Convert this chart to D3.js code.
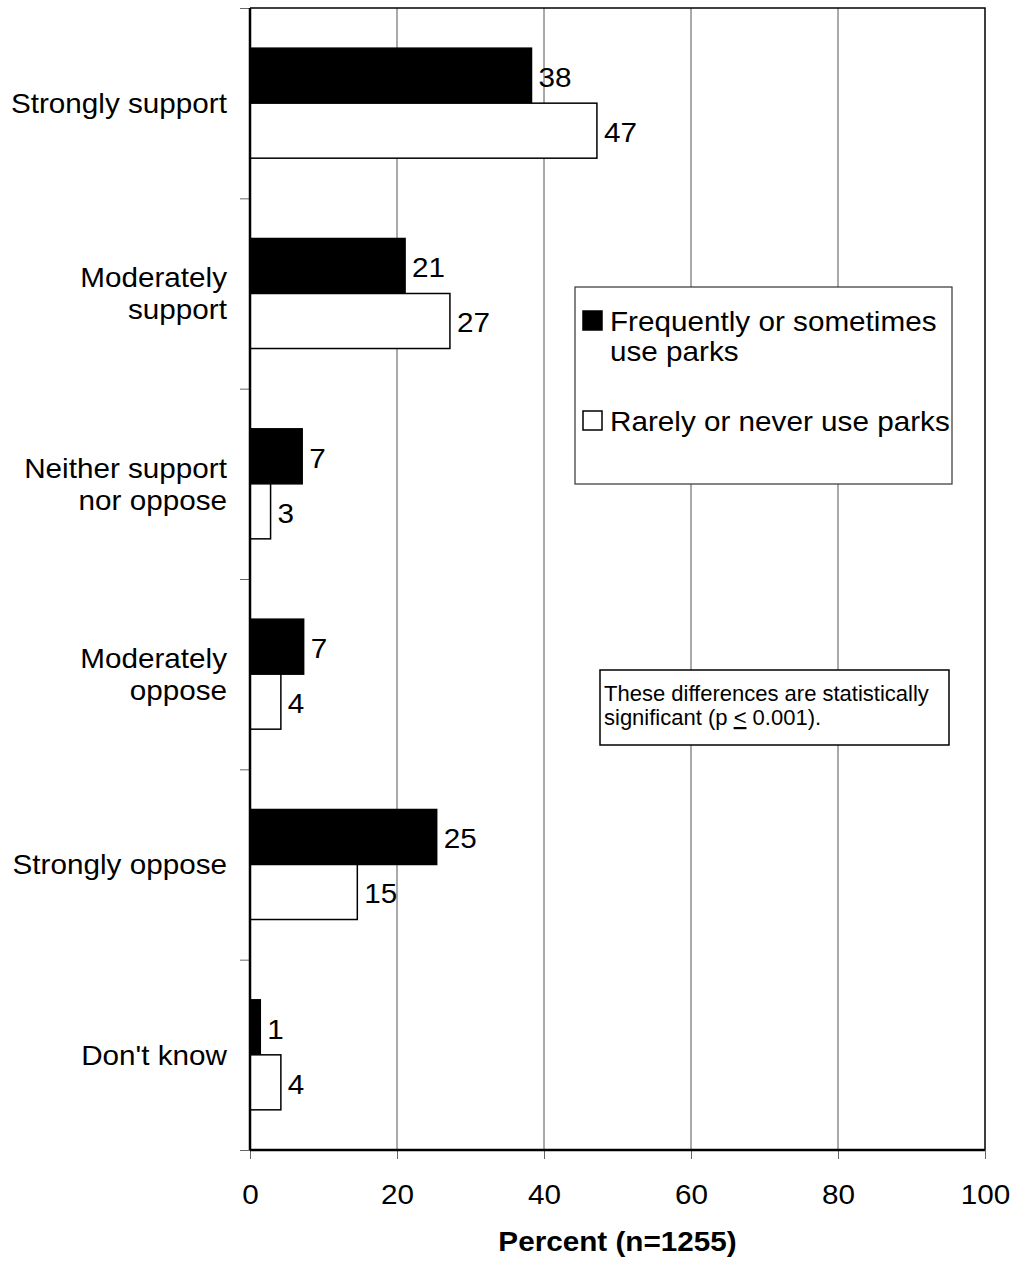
<!DOCTYPE html>
<html>
<head>
<meta charset="utf-8">
<script src="https://cdn.jsdelivr.net/npm/d3@7"></script>
<style>
  body { margin: 0; background: #fff; }
  svg { display: block; font-family: "Liberation Sans", Arial, sans-serif; }
</style>
</head>
<body>
<svg id="chart"></svg>
<script>
// Chart values
const categories = ["Strongly support", "Moderately\nsupport", "Neither support\nnor oppose",
  "Moderately\noppose", "Strongly oppose", "Don't know"];
const seriesKeys = ["frequent", "rare"];
const seriesLabels = [["Frequently or sometimes", "use parks"], ["Rarely or never use parks"]];
const frequentValues = [38.3, 21.1, 7.1, 7.3, 25.4, 1.4];
const rareValues = [47.2, 27.2, 2.8, 4.2, 14.6, 4.2];
const xTicks = [0, 20, 40, 60, 80, 100];
const xTitle = "Percent (n=1255)";
const noteLines = ["These differences are statistically", "significant (p ", "<", " 0.001)."];

const config = {
  width: 1013, height: 1261,
  margin: {top: 8, right: 28, bottom: 111, left: 250},
  fontSize: 28,
  stretch: 1.06
};

const rows = categories.map((c, i) => ({
  category: c,
  frequent: frequentValues[i],
  rare: rareValues[i]
}));

const svg = d3.select('#chart')
    .attr('width', config.width)
    .attr('height', config.height);

const innerW = config.width - config.margin.left - config.margin.right;
const innerH = config.height - config.margin.top - config.margin.bottom;

const chart = svg.append('g')
    .attr('transform', `translate(${config.margin.left},${config.margin.top})`);

// Scales
const xScale = d3.scaleLinear().domain([0, 100]).range([0, innerW]);
const yScale = d3.scaleBand().domain(categories).range([0, innerH]);
const ySub = d3.scaleBand().domain(seriesKeys).range([0, yScale.bandwidth()]).paddingOuter(0.73);
const fills = d3.scaleOrdinal().domain(seriesKeys).range(['#000', '#fff']);
const boundary = d3.scaleLinear().domain([0, categories.length]).range([0, innerH]);

// text in the source is a little wider than plain Arial
const stretched = sel => sel.attr('transform', function() {
  const t = d3.select(this);
  return `translate(${t.attr('data-x')},${t.attr('data-y')}) scale(${config.stretch},1)`;
});

// Gridlines
chart.append('g')
  .selectAll('line')
  .data(xTicks.slice(1, -1))
  .join('line')
    .attr('x1', d => xScale(d)).attr('x2', d => xScale(d))
    .attr('y1', 0).attr('y2', innerH)
    .attr('stroke', '#555').attr('stroke-width', 1);

// Plot frame (top and right)
chart.append('path')
    .attr('d', `M0,0H${innerW}V${innerH}`)
    .attr('fill', 'none').attr('stroke', '#000').attr('stroke-width', 1.5);

// Left ticks at category boundaries
chart.append('g')
    .call(d3.axisLeft(boundary).tickValues(d3.range(categories.length + 1)).tickSize(10).tickFormat(''))
    .call(g => g.select('.domain').remove())
    .call(g => g.selectAll('line').attr('stroke', '#666'));

// Bottom axis
const xAxisG = chart.append('g')
    .attr('transform', `translate(0,${innerH})`)
    .call(d3.axisBottom(xScale).tickValues(xTicks).tickSize(9).tickPadding(25))
    .call(g => g.select('.domain').remove())
    .call(g => g.selectAll('line').attr('stroke', '#666'));
xAxisG.selectAll('text')
    .attr('font-size', config.fontSize)
    .attr('fill', '#000')
    .attr('font-family', '"Liberation Sans", Arial, sans-serif')
    .attr('transform', `scale(${config.stretch},1)`);

// Bars
const groups = chart.selectAll('.cat')
  .data(rows)
  .join('g')
    .attr('class', 'cat')
    .attr('transform', d => `translate(0,${yScale(d.category)})`);

groups.selectAll('rect')
  .data(d => seriesKeys.map(k => ({key: k, value: d[k]})))
  .join('rect')
    .attr('x', 0)
    .attr('y', d => ySub(d.key))
    .attr('width', d => xScale(d.value))
    .attr('height', ySub.bandwidth())
    .attr('fill', d => fills(d.key))
    .attr('stroke', '#000')
    .attr('stroke-width', 1.5);

groups.selectAll('.val')
  .data(d => seriesKeys.map(k => ({key: k, value: d[k]})))
  .join('text')
    .attr('class', 'val')
    .attr('data-x', d => xScale(d.value) + 7)
    .attr('data-y', d => ySub(d.key) + ySub.bandwidth() / 2)
    .attr('dy', '0.4em')
    .attr('font-size', config.fontSize)
    .text(d => Math.round(d.value))
    .call(stretched);

// Axis lines (left and bottom), drawn over bars
chart.append('line')
    .attr('x1', 0).attr('x2', 0).attr('y1', 0).attr('y2', innerH)
    .attr('stroke', '#000').attr('stroke-width', 2.5);
chart.append('line')
    .attr('x1', 0).attr('x2', innerW).attr('y1', innerH).attr('y2', innerH)
    .attr('stroke', '#000').attr('stroke-width', 2.5);

// Category labels
const catLabels = chart.selectAll('.cat-label')
  .data(categories)
  .join('text')
    .attr('class', 'cat-label')
    .attr('data-x', -23)
    .attr('data-y', d => yScale(d) + yScale.bandwidth() / 2)
    .attr('text-anchor', 'end')
    .attr('font-size', config.fontSize)
    .call(stretched);
catLabels.each(function(d) {
  const lines = d.split('\n');
  const t = d3.select(this);
  lines.forEach((line, i) => {
    t.append('tspan')
      .attr('x', 0)
      .attr('y', (i - (lines.length - 1) / 2) * 32)
      .attr('dy', '0.35em')
      .text(line);
  });
});

// X title
svg.append('text')
    .attr('data-x', config.margin.left + innerW / 2)
    .attr('data-y', 1251)
    .attr('text-anchor', 'middle')
    .attr('font-size', config.fontSize)
    .attr('font-weight', 'bold')
    .text(xTitle)
    .call(stretched);

// Legend
const legend = svg.append('g').attr('transform', 'translate(575,287)');
legend.append('rect')
    .attr('width', 377).attr('height', 197)
    .attr('fill', '#fff').attr('stroke', '#333').attr('stroke-width', 1.2);
const legendItems = legend.selectAll('.item')
  .data(seriesKeys)
  .join('g')
    .attr('class', 'item')
    .attr('transform', (d, i) => `translate(8,${24 + i * 100})`);
legendItems.append('rect')
    .attr('width', 19).attr('height', 19)
    .attr('fill', d => fills(d))
    .attr('stroke', '#000').attr('stroke-width', 1.5);
legendItems.append('text')
    .attr('data-x', 27)
    .attr('data-y', 20)
    .attr('font-size', config.fontSize)
    .call(stretched)
    .each(function(d, i) {
      const t = d3.select(this);
      seriesLabels[i].forEach((line, j) => {
        t.append('tspan').attr('x', 0).attr('y', j * 30).text(line);
      });
    });

// Note box
const note = svg.append('g').attr('transform', 'translate(600,670)');
note.append('rect')
    .attr('width', 349).attr('height', 75)
    .attr('fill', '#fff').attr('stroke', '#000').attr('stroke-width', 1.5);
const noteText = note.append('text').attr('font-size', 22);
noteText.append('tspan').attr('x', 4).attr('y', 31).text(noteLines[0]);
noteText.append('tspan').attr('x', 4).attr('y', 55).text(noteLines[1]);
noteText.append('tspan').attr('text-decoration', 'underline').text(noteLines[2]);
noteText.append('tspan').text(noteLines[3]);
</script>
</body>
</html>
